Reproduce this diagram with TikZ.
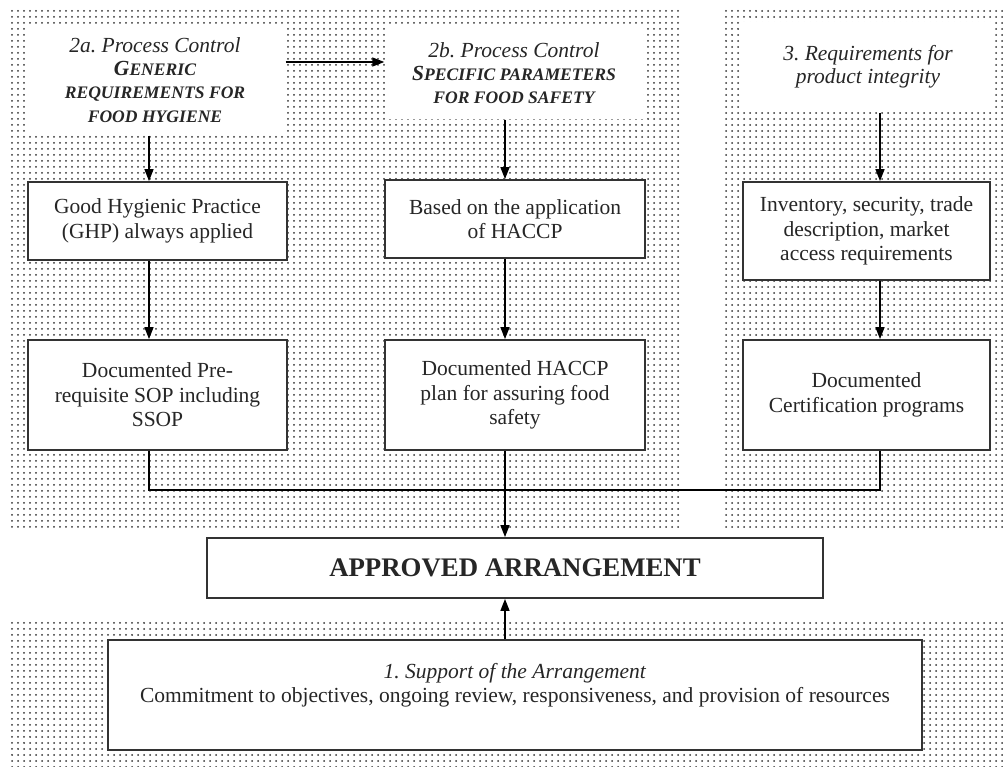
\documentclass[tikz,border=0pt]{standalone}
\usepackage{fontspec}
\setmainfont{Liberation Serif}
\usetikzlibrary{arrows.meta,patterns}

% heading words in faked small caps
\newcommand{\hsc}[2]{#1{\fontsize{8.8}{11.5}\selectfont #2}}
\frenchspacing

\begin{document}
\begin{tikzpicture}[x=0.5pt,y=-0.5pt,
    box/.style={draw=black!80, line width=0.9pt, fill=white, align=center,
        inner sep=0pt, text=black!85, font=\fontsize{10.75}{12.2}\selectfont},
    head/.style={fill=white, align=center, inner sep=0pt, text=black!85,
        font=\fontsize{10.75}{11.6}\selectfont\itshape},
    zone/.style={pattern=dots, pattern color=black!80},
    >={Triangle[length=6pt,width=4.5pt]}, line width=0.7pt]

  \useasboundingbox (0,0) rectangle (1003,767);

  % dotted areas
  \fill[zone] (8,8) rectangle (680,527);
  \fill[zone] (723,8) rectangle (1003,527);
  \fill[zone] (8,620) rectangle (1003,767);

  % columns of the arrows
  \coordinate (c1) at (149,0);
  \coordinate (c2) at (505,0);
  \coordinate (c3) at (880,0);

  % headings
  \node[head, minimum width=130pt, minimum height=55pt] (H2a) at (155,80)
    {2a. Process Control\\ \bfseries\hsc{G}{ENERIC}\\
     \bfseries\hsc{}{REQUIREMENTS FOR}\\ \bfseries\hsc{}{FOOD HYGIENE}};
  \node[head, minimum width=129pt, minimum height=46pt] (H2b) at (514,73)
    {2b. Process Control\\ \bfseries\hsc{S}{PECIFIC PARAMETERS}\\
     \bfseries\hsc{}{FOR FOOD SAFETY}};
  \node[head, minimum width=126.5pt, minimum height=45pt] (H3) at (868,67)
    {3. Requirements for\\ product integrity};

  % boxes
  \node[box, minimum width=129.5pt, minimum height=39pt] (GHP) at (157.5,221)
    {Good Hygienic Practice\\(GHP) always applied};
  \node[box, minimum width=130pt, minimum height=39pt] (HACCP) at (515,219)
    {Based on the application\\of HACCP};
  \node[box, minimum width=123.5pt, minimum height=49pt] (Inv) at (866.5,231)
    {Inventory, security, trade\\description, market\\access requirements};

  \node[box, minimum width=129.5pt, minimum height=55pt] (DocA) at (157.5,395)
    {Documented Pre-\\requisite SOP including\\SSOP};
  \node[box, minimum width=130pt, minimum height=55pt] (DocB) at (515,395)
    {Documented HACCP\\plan for assuring food\\safety};
  \node[box, minimum width=123.5pt, minimum height=55pt] (DocC) at (866.5,395)
    {Documented\\Certification programs};

  \node[box, minimum width=308pt, minimum height=30pt,
        font=\fontsize{13.4}{15}\selectfont\bfseries] (AA) at (515,568)
    {APPROVED ARRANGEMENT};
  \node[box, minimum width=407pt, minimum height=55pt] (Sup) at (515,695)
    {\textit{1. Support of the Arrangement}\\
     Commitment to objectives, ongoing review, responsiveness, and provision of resources\\
     \mbox{}};

  % connectors
  \coordinate (y1) at (0,62);
  \coordinate (J) at (505,490);
  \draw[->] (H2a.east |- y1) -- (H2b.west |- y1);
  \draw[->] (H2a.south -| c1) -- (GHP.north -| c1);
  \draw[->] (H2b.south -| c2) -- (HACCP.north -| c2);
  \draw[->] (H3.south -| c3) -- (Inv.north -| c3);
  \draw[->] (GHP.south -| c1) -- (DocA.north -| c1);
  \draw[->] (HACCP.south -| c2) -- (DocB.north -| c2);
  \draw[->] (Inv.south -| c3) -- (DocC.north -| c3);
  \draw (DocA.south -| c1) |- (J) -| (DocC.south -| c3);
  \draw[->] (DocB.south -| c2) -- (AA.north -| c2);
  \draw[->] (Sup.north -| c2) -- (AA.south -| c2);
\end{tikzpicture}
\end{document}
